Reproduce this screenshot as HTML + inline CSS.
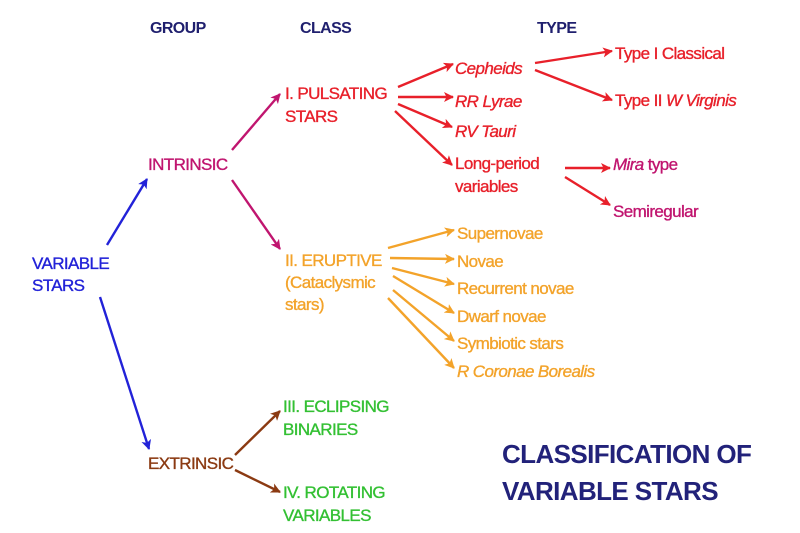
<!DOCTYPE html>
<html><head><meta charset="utf-8"><style>
html,body{margin:0;padding:0;background:#fff;}
svg{display:block;}
text{font-family:"Liberation Sans",sans-serif;font-size:17px;letter-spacing:-0.6px;stroke-width:0.35px;}
.h{font-weight:bold;fill:#1f1f6e;}
</style></head><body>
<svg width="800" height="533" viewBox="0 0 800 533">
<defs>
<marker id="mb" markerWidth="10" markerHeight="10" refX="9" refY="5" orient="auto" markerUnits="userSpaceOnUse"><path d="M0,0 L10,5 L0,10 L2.5,5z" fill="#2222d8"/></marker>
<marker id="mm" markerWidth="10" markerHeight="10" refX="9" refY="5" orient="auto" markerUnits="userSpaceOnUse"><path d="M0,0 L10,5 L0,10 L2.5,5z" fill="#c0156f"/></marker>
<marker id="mr" markerWidth="10" markerHeight="10" refX="9" refY="5" orient="auto" markerUnits="userSpaceOnUse"><path d="M0,0 L10,5 L0,10 L2.5,5z" fill="#e8202a"/></marker>
<marker id="mo" markerWidth="10" markerHeight="10" refX="9" refY="5" orient="auto" markerUnits="userSpaceOnUse"><path d="M0,0 L10,5 L0,10 L2.5,5z" fill="#f3a32a"/></marker>
<marker id="mn" markerWidth="10" markerHeight="10" refX="9" refY="5" orient="auto" markerUnits="userSpaceOnUse"><path d="M0,0 L10,5 L0,10 L2.5,5z" fill="#8b3a12"/></marker>
</defs>
<g>
<text class="h" x="150" y="33" style="font-size:16px;letter-spacing:-0.6px">GROUP</text>
<text class="h" x="300" y="33" style="font-size:16px;letter-spacing:-0.6px">CLASS</text>
<text class="h" x="537" y="33" style="font-size:16px;letter-spacing:-0.6px">TYPE</text>
</g>
<g stroke-width="2.4" fill="none">
<line x1="107" y1="245" x2="147" y2="179" stroke="#2222d8" marker-end="url(#mb)"/>
<line x1="100" y1="297" x2="149" y2="449" stroke="#2222d8" marker-end="url(#mb)"/>
<line x1="232" y1="150" x2="280" y2="94" stroke="#c0156f" marker-end="url(#mm)"/>
<line x1="232" y1="180" x2="280" y2="249" stroke="#c0156f" marker-end="url(#mm)"/>
<line x1="235" y1="455" x2="280" y2="411" stroke="#8b3a12" marker-end="url(#mn)"/>
<line x1="235" y1="470" x2="280" y2="492" stroke="#8b3a12" marker-end="url(#mn)"/>
<g stroke="#e8202a">
<line x1="398" y1="87" x2="453" y2="64" marker-end="url(#mr)"/>
<line x1="398" y1="97" x2="453" y2="97" marker-end="url(#mr)"/>
<line x1="398" y1="104" x2="452" y2="127" marker-end="url(#mr)"/>
<line x1="395" y1="111" x2="452" y2="165" marker-end="url(#mr)"/>
<line x1="535" y1="63" x2="612" y2="51" marker-end="url(#mr)"/>
<line x1="535" y1="70" x2="612" y2="100" marker-end="url(#mr)"/>
<line x1="565" y1="168" x2="610" y2="168" marker-end="url(#mr)"/>
<line x1="565" y1="177" x2="610" y2="205" marker-end="url(#mr)"/>
</g>
<g stroke="#f3a32a">
<line x1="388" y1="248" x2="454" y2="230" marker-end="url(#mo)"/>
<line x1="390" y1="258" x2="454" y2="259" marker-end="url(#mo)"/>
<line x1="392" y1="268" x2="454" y2="284" marker-end="url(#mo)"/>
<line x1="393" y1="276" x2="454" y2="313" marker-end="url(#mo)"/>
<line x1="393" y1="290" x2="454" y2="341" marker-end="url(#mo)"/>
<line x1="388" y1="298" x2="454" y2="368" marker-end="url(#mo)"/>
</g>
</g>
<g fill="#2222d8" stroke="#2222d8"><text x="32" y="269">VARIABLE</text><text x="32" y="291">STARS</text></g>
<text x="148" y="170" fill="#c0156f" stroke="#c0156f">INTRINSIC</text>
<text x="148" y="469" fill="#8b3a12" stroke="#8b3a12">EXTRINSIC</text>
<g fill="#e8202a" stroke="#e8202a">
<text x="285" y="99">I. PULSATING</text>
<text x="285" y="122">STARS</text>
<text x="455" y="74" font-style="italic">Cepheids</text>
<text x="455" y="107" font-style="italic">RR Lyrae</text>
<text x="455" y="137" font-style="italic">RV Tauri</text>
<text x="455" y="169">Long-period</text>
<text x="455" y="192">variables</text>
<text x="615" y="59">Type I Classical</text>
<text x="615" y="106">Type II <tspan font-style="italic">W Virginis</tspan></text>
</g>
<g fill="#c0156f" stroke="#c0156f">
<text x="613" y="170"><tspan font-style="italic">Mira</tspan> type</text>
<text x="613" y="217">Semiregular</text>
</g>
<g fill="#f3a32a" stroke="#f3a32a">
<text x="285" y="266">II. ERUPTIVE</text>
<text x="285" y="288">(Cataclysmic</text>
<text x="285" y="310">stars)</text>
<text x="457" y="239">Supernovae</text>
<text x="457" y="267">Novae</text>
<text x="457" y="294">Recurrent novae</text>
<text x="457" y="322">Dwarf novae</text>
<text x="457" y="349">Symbiotic stars</text>
<text x="457" y="377" font-style="italic">R Coronae Borealis</text>
</g>
<g fill="#33c033" stroke="#33c033">
<text x="283" y="412">III. ECLIPSING</text>
<text x="283" y="435">BINARIES</text>
<text x="283" y="498">IV. ROTATING</text>
<text x="283" y="521">VARIABLES</text>
</g>
<g fill="#22227a" font-weight="bold">
<text x="502" y="463" style="font-size:26px;letter-spacing:-0.6px">CLASSIFICATION OF</text>
<text x="502" y="500" style="font-size:26px;letter-spacing:-0.6px">VARIABLE STARS</text>
</g>
</svg>
</body></html>
